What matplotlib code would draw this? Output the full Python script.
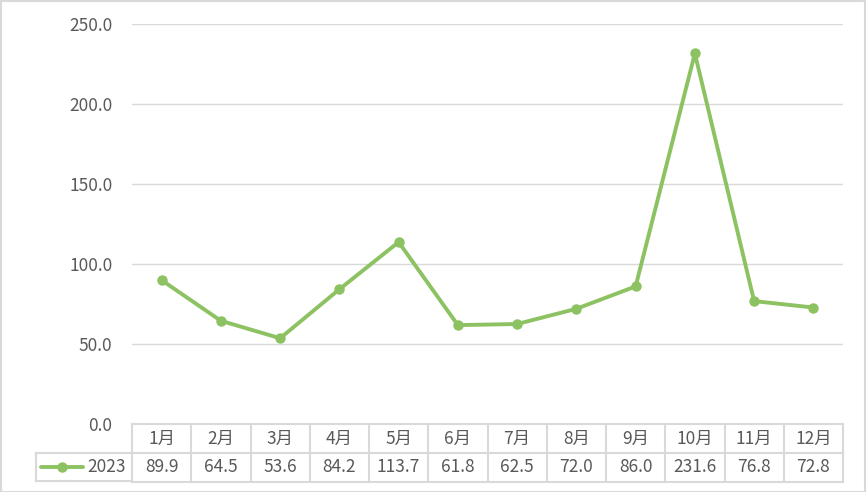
import matplotlib.pyplot as plt
from matplotlib.patches import Rectangle
import matplotlib.transforms as mtransforms

plt.rcParams['font.family'] = ['Noto Sans CJK SC', 'DejaVu Sans']

months = ['1月', '2月', '3月', '4月', '5月', '6月', '7月', '8月', '9月', '10月', '11月', '12月']
values_2023 = [89.9, 64.5, 53.6, 84.2, 113.7, 61.8, 62.5, 72.0, 86.0, 231.6, 76.8, 72.8]
series_name = '2023'
y_ticks = [0, 50, 100, 150, 200, 250]

green = '#8DC262'
grid_c = '#D9D9D9'
text_c = '#595959'
fs = 12.5

W, H = 867, 492
fig = plt.figure(figsize=(W / 100, H / 100), dpi=100)
ax = fig.add_axes([132 / W, 1 - 424 / H, (843 - 132) / W, 400 / H])

x = list(range(len(months)))
ax.plot(x, values_2023, color=green, lw=2.8, marker='o', ms=6.5,
        solid_capstyle='round', zorder=3)

ax.set_xlim(-0.5, len(months) - 0.5)
ax.set_ylim(0, 250)
ax.set_yticks(y_ticks)
ax.set_yticklabels([f'{v:.1f}' for v in y_ticks], color=text_c, fontsize=fs,
                   fontweight='light')
ax.tick_params(axis='y', length=0, pad=14)
ax.set_xticks([])
ax.grid(axis='y', color=grid_c, lw=1)
for s in ax.spines.values():
    s.set_visible(False)

# data table under the plot
tr = mtransforms.blended_transform_factory(ax.transData, ax.transAxes)
row_h = 29 / 400
n = len(months)
kw = dict(color=grid_c, lw=1.5, transform=tr, clip_on=False)
ax.plot([-0.5, n - 0.5], [0, 0], **kw)
ax.plot([-0.5, n - 0.5], [-row_h, -row_h], **kw)
ax.plot([-0.5, n - 0.5], [-2 * row_h, -2 * row_h], **kw)
for i in range(n + 1):
    ax.plot([i - 0.5, i - 0.5], [0, -2 * row_h], **kw)
for i, (m, v) in enumerate(zip(months, values_2023)):
    ax.text(i, -row_h / 2, m, transform=tr, ha='center', va='center',
            color=text_c, fontsize=fs, fontweight='light')
    ax.text(i, -1.5 * row_h, f'{v:.1f}', transform=tr, ha='center', va='center',
            color=text_c, fontsize=fs, fontweight='light')

# legend cell on the left of the value row
x0 = 36 / W
ybot = 1 - 481 / H
ytop = 1 - 453 / H
fig.add_artist(plt.Line2D([x0, 132 / W], [ybot, ybot], color=grid_c, lw=1.5))
fig.add_artist(plt.Line2D([x0, 132 / W], [ytop, ytop], color=grid_c, lw=1.5))
fig.add_artist(plt.Line2D([x0, x0], [ybot, ytop], color=grid_c, lw=1.5))
ymid = (ybot + ytop) / 2
fig.add_artist(plt.Line2D([41 / W, 83 / W], [ymid, ymid], color=green, lw=2.8,
                          solid_capstyle='round'))
fig.add_artist(plt.Line2D([62 / W], [ymid], color=green, marker='o', ms=6.5))
fig.text(87 / W, ymid, series_name, ha='left', va='center', color=text_c,
         fontsize=fs, fontweight='light')

# outer frame
fig.add_artist(Rectangle((0.001, 0.001), 0.997, 0.997, transform=fig.transFigure,
                         fill=False, ec=grid_c, lw=1.5))

fig.savefig('out.png', dpi=100, facecolor='white')
